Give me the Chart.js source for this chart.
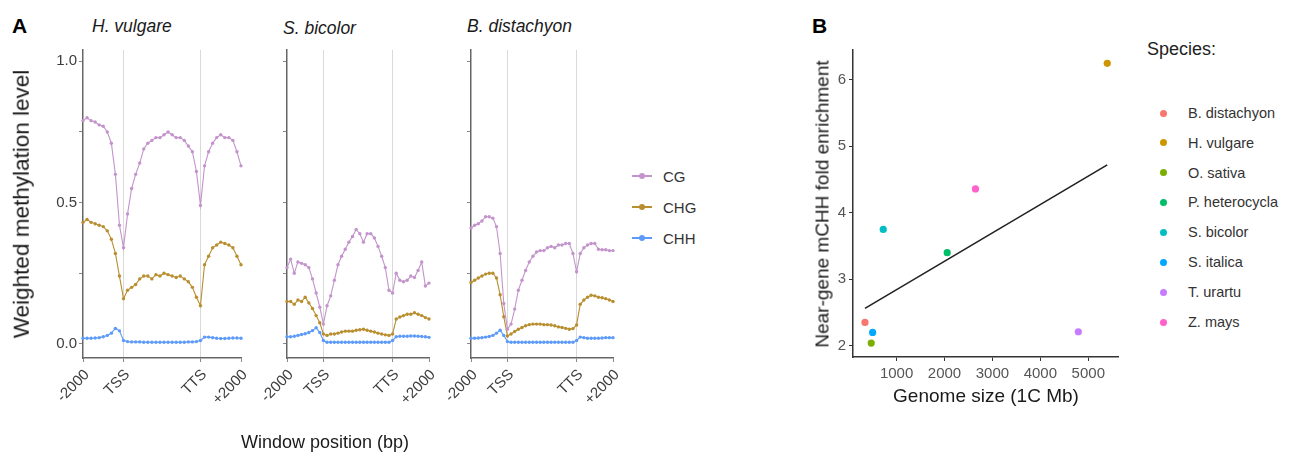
<!DOCTYPE html>
<html>
<head>
<meta charset="utf-8">
<script src="https://cdn.jsdelivr.net/npm/chart.js@4.4.1/dist/chart.umd.min.js"></script>
<style>
	body { margin: 0; width: 1295px; height: 459px; position: relative; overflow: hidden; background: #fff; font-family: "Liberation Sans", Arial, sans-serif; color: #1a1a1a; }
	canvas { position: absolute; }
	.txt { position: absolute; white-space: nowrap; line-height: 1; }
	.key { position: absolute; width: 20px; height: 2px; }
	.key i { position: absolute; left: 7px; top: -2px; width: 6px; height: 6px; border-radius: 50%; background: inherit; }
	.dot { position: absolute; width: 7px; height: 7px; border-radius: 50%; }
</style>
</head>
<body>
<canvas id="profile-hv" width="220" height="370" style="left:30px;top:40px;width:220px;height:370px"></canvas>
<canvas id="profile-sb" width="200" height="370" style="left:240px;top:40px;width:200px;height:370px"></canvas>
<canvas id="profile-bd" width="200" height="370" style="left:424px;top:40px;width:200px;height:370px"></canvas>
<canvas id="genome-chart" width="330" height="350" style="left:800px;top:40px;width:330px;height:350px"></canvas>
<script>
// panel A: methylation profiles, 11 upstream bins (to TSS), 19 gene body bins (to TTS), 10 downstream
const xTickLabels = ["-2000", "TSS", "TTS", "+2000"];
const xTickBins = [0, 10, 29, 39];
const boundaryBins = [10, 29];
const yTickValues = [0, 0.25, 0.5, 0.75, 1];
const yTickLabels = ["0.0", "", "0.5", "", "1.0"];
const contexts = ["CG", "CHG", "CHH"];
const contextColors = ["#c394cb", "#b88e2e", "#5e9bf8"];

const hvCG = [0.79, 0.80, 0.79, 0.785, 0.775, 0.77, 0.75, 0.71, 0.60, 0.42, 0.34,
	0.46, 0.55, 0.60, 0.64, 0.69, 0.71, 0.72, 0.73, 0.73, 0.74, 0.75, 0.74, 0.73, 0.73, 0.72, 0.70, 0.68, 0.61, 0.49,
	0.63, 0.68, 0.71, 0.73, 0.74, 0.73, 0.73, 0.72, 0.68, 0.63];
const hvCHG = [0.43, 0.44, 0.43, 0.425, 0.42, 0.415, 0.40, 0.37, 0.32, 0.24, 0.16,
	0.19, 0.20, 0.21, 0.23, 0.24, 0.24, 0.23, 0.245, 0.24, 0.25, 0.245, 0.24, 0.235, 0.24, 0.23, 0.22, 0.20, 0.165, 0.135,
	0.28, 0.31, 0.34, 0.35, 0.36, 0.355, 0.35, 0.34, 0.31, 0.28];
const hvCHH = [0.02, 0.02, 0.02, 0.021, 0.022, 0.025, 0.03, 0.038, 0.055, 0.046, 0.012,
	0.008, 0.007, 0.007, 0.007, 0.006, 0.006, 0.006, 0.006, 0.006, 0.006, 0.006, 0.006, 0.006, 0.006, 0.006, 0.007, 0.007, 0.008, 0.012,
	0.024, 0.024, 0.022, 0.02, 0.019, 0.019, 0.02, 0.021, 0.021, 0.02];

const sbCG = [0.27, 0.30, 0.25, 0.29, 0.285, 0.28, 0.27, 0.23, 0.18, 0.13, 0.07,
	0.135, 0.17, 0.225, 0.28, 0.31, 0.335, 0.36, 0.38, 0.405, 0.39, 0.36, 0.39, 0.39, 0.375, 0.345, 0.31, 0.27, 0.19, 0.18,
	0.25, 0.225, 0.22, 0.225, 0.24, 0.235, 0.26, 0.29, 0.205, 0.215];
const sbCHG = [0.15, 0.15, 0.14, 0.155, 0.15, 0.165, 0.145, 0.125, 0.10, 0.075, 0.035,
	0.03, 0.035, 0.035, 0.038, 0.042, 0.045, 0.045, 0.045, 0.048, 0.05, 0.052, 0.048, 0.045, 0.042, 0.038, 0.035, 0.032, 0.03, 0.035,
	0.088, 0.095, 0.10, 0.105, 0.105, 0.11, 0.105, 0.10, 0.093, 0.088];
const sbCHH = [0.025, 0.025, 0.027, 0.03, 0.033, 0.036, 0.04, 0.047, 0.057, 0.04, 0.012,
	0.006, 0.006, 0.006, 0.006, 0.006, 0.006, 0.006, 0.006, 0.006, 0.006, 0.006, 0.006, 0.006, 0.006, 0.006, 0.006, 0.006, 0.006, 0.012,
	0.025, 0.027, 0.027, 0.027, 0.028, 0.028, 0.027, 0.026, 0.025, 0.023];

const bdCG = [0.41, 0.42, 0.425, 0.435, 0.45, 0.45, 0.445, 0.415, 0.32, 0.143, 0.052,
	0.07, 0.123, 0.19, 0.225, 0.26, 0.29, 0.31, 0.325, 0.33, 0.33, 0.34, 0.345, 0.34, 0.35, 0.35, 0.355, 0.355, 0.32, 0.255,
	0.32, 0.34, 0.35, 0.355, 0.355, 0.335, 0.333, 0.333, 0.33, 0.33];
const bdCHG = [0.217, 0.225, 0.233, 0.24, 0.247, 0.25, 0.25, 0.233, 0.174, 0.096, 0.028,
	0.035, 0.044, 0.052, 0.058, 0.064, 0.068, 0.07, 0.07, 0.07, 0.068, 0.068, 0.067, 0.064, 0.06, 0.058, 0.055, 0.052, 0.054, 0.067,
	0.14, 0.155, 0.165, 0.172, 0.17, 0.165, 0.163, 0.16, 0.155, 0.15];
const bdCHH = [0.02, 0.02, 0.021, 0.022, 0.024, 0.026, 0.03, 0.038, 0.048, 0.03, 0.008,
	0.006, 0.006, 0.006, 0.006, 0.006, 0.006, 0.006, 0.006, 0.006, 0.006, 0.006, 0.006, 0.006, 0.006, 0.006, 0.006, 0.006, 0.006, 0.012,
	0.024, 0.022, 0.02, 0.02, 0.02, 0.02, 0.021, 0.022, 0.022, 0.022];

// panel B: genome size vs near-gene mCHH enrichment
const species = ["B. distachyon", "H. vulgare", "O. sativa", "P. heterocycla", "S. bicolor", "S. italica", "T. urartu", "Z. mays"];
const speciesColors = ["#F8766D", "#CD9600", "#7CAE00", "#00BE67", "#00BFC4", "#00A9FF", "#C77CFF", "#FF61CC"];
const genomeSize = [340, 5396, 470, 2056, 721, 500, 4792, 2646];
const enrichment = [2.35, 6.25, 2.04, 3.40, 3.75, 2.20, 2.21, 4.36];
const genomeTicks = [1000, 2000, 3000, 4000, 5000];
const enrichmentTicks = [2, 3, 4, 5, 6];

Chart.defaults.font.family = "'Liberation Sans', Arial, sans-serif";
Chart.defaults.animation = false;

const binLabels = hvCG.map((_, i) => {
	const k = xTickBins.indexOf(i);
	return k >= 0 ? xTickLabels[k] : "";
});

function addText(text, left, top, size, extra) {
	const el = document.createElement("div");
	el.className = "txt";
	el.textContent = text;
	el.style.left = left + "px";
	el.style.top = top + "px";
	el.style.fontSize = size + "px";
	Object.assign(el.style, extra || {});
	document.body.appendChild(el);
	return el;
}

// baseline placement for left aligned text
function addBaseText(text, left, baseline, size, extra) {
	return addText(text, left, baseline - 0.8465 * size, size, extra);
}

function addCenterText(text, cx, cy, size, rotate, extra) {
	const el = addText(text, cx, cy, size, extra);
	el.style.transform = "translate(-50%, -50%)" + (rotate ? " rotate(-90deg)" : "");
	return el;
}

function makeProfileChart(canvasId, series, yWidth, padRight, showYLabels) {
	const canvas = document.getElementById(canvasId);
	return new Chart(canvas, {
		type: "line",
		data: {
			labels: binLabels,
			datasets: series.map((values, i) => ({
				label: contexts[i],
				data: values,
				borderColor: contextColors[i],
				backgroundColor: contextColors[i],
				pointBackgroundColor: contextColors[i],
				borderWidth: 1.1,
				pointRadius: 1.7,
				pointBorderWidth: 0,
				tension: 0,
				clip: false,
			})),
		},
		options: {
			responsive: false,
			layout: { padding: { top: 10, right: padRight, left: 0, bottom: 0 } },
			plugins: { legend: { display: false }, tooltip: { enabled: false } },
			scales: {
				x: {
					type: "category",
					grid: {
						color: (ctx) => boundaryBins.includes(ctx.index) ? "#d9d9d9" : "rgba(0,0,0,0)",
						tickColor: (ctx) => xTickBins.includes(ctx.index) ? "#8a8a8a" : "rgba(0,0,0,0)",
						tickLength: 4,
						lineWidth: 1,
					},
					border: { color: "#666", width: 1.5 },
					ticks: {
						autoSkip: false,
						minRotation: 45,
						maxRotation: 45,
						padding: 4,
						labelOffset: 4,
						color: "#3d3d3d",
						font: { size: 15 },
					},
					afterFit: (scale) => {
						scale.height = 52;
						scale.paddingLeft = 0;
						scale.paddingRight = 0;
					},
				},
				y: {
					min: -0.05,
					max: 1.04,
					afterBuildTicks: (scale) => {
						scale.ticks = yTickValues.map((v) => ({ value: v }));
					},
					grid: { drawOnChartArea: false, tickLength: 4, color: "#8a8a8a" },
					border: { color: "#666", width: 1.5 },
					ticks: {
						padding: 2,
						color: "#3d3d3d",
						font: { size: 15 },
						callback: (value) => showYLabels ? yTickLabels[yTickValues.indexOf(value)] : "",
					},
					afterFit: (scale) => {
						scale.width = yWidth;
						scale.paddingTop = 0;
						scale.paddingBottom = 0;
					},
				},
			},
		},
	});
}

function leastSquares(xs, ys) {
	const n = xs.length;
	const mx = xs.reduce((a, b) => a + b, 0) / n;
	const my = ys.reduce((a, b) => a + b, 0) / n;
	let sxy = 0;
	let sxx = 0;
	xs.forEach((x, i) => {
		sxy += (x - mx) * (ys[i] - my);
		sxx += (x - mx) * (x - mx);
	});
	const slope = sxy / sxx;
	return (x) => my + slope * (x - mx);
}

function makeGenomeChart() {
	const fit = leastSquares(genomeSize, enrichment);
	const xMin = Math.min(...genomeSize);
	const xMax = Math.max(...genomeSize);
	return new Chart(document.getElementById("genome-chart"), {
		type: "scatter",
		data: {
			datasets: [
				{
					type: "line",
					data: [{ x: xMin, y: fit(xMin) }, { x: xMax, y: fit(xMax) }],
					borderColor: "#222",
					borderWidth: 1.6,
					pointRadius: 0,
				},
				{
					data: genomeSize.map((x, i) => ({ x, y: enrichment[i] })),
					backgroundColor: speciesColors,
					pointRadius: 3.6,
					pointBorderWidth: 0,
					clip: false,
				},
			],
		},
		options: {
			responsive: false,
			layout: { padding: { top: 10, right: 12, left: 0, bottom: 0 } },
			plugins: { legend: { display: false }, tooltip: { enabled: false } },
			scales: {
				x: {
					type: "linear",
					min: 90,
					max: 5620,
					afterBuildTicks: (scale) => {
						scale.ticks = genomeTicks.map((v) => ({ value: v }));
					},
					grid: { drawOnChartArea: false, tickLength: 4, color: "#333" },
					border: { color: "#333", width: 1.5 },
					ticks: { padding: 4, color: "#555", font: { size: 15 }, callback: (v) => String(v) },
					afterFit: (scale) => {
						scale.height = 33;
						scale.paddingLeft = 0;
						scale.paddingRight = 0;
					},
				},
				y: {
					min: 1.83,
					max: 6.45,
					afterBuildTicks: (scale) => {
						scale.ticks = enrichmentTicks.map((v) => ({ value: v }));
					},
					grid: { drawOnChartArea: false, tickLength: 4, color: "#333" },
					border: { color: "#333", width: 1.5 },
					ticks: { padding: 3, color: "#555", font: { size: 15 }, callback: (v) => String(v) },
					afterFit: (scale) => {
						scale.width = 53;
						scale.paddingTop = 0;
						scale.paddingBottom = 0;
					},
				},
			},
		},
	});
}

makeProfileChart("profile-hv", [hvCG, hvCHG, hvCHH], 53, 9, true);
makeProfileChart("profile-sb", [sbCG, sbCHG, sbCHH], 47, 11, false);
makeProfileChart("profile-bd", [bdCG, bdCHG, bdCHH], 47, 11, false);
makeGenomeChart();

// panel A texts
addBaseText("A", 12, 33, 21, { fontWeight: "bold", color: "#000" });
addBaseText("H. vulgare", 92, 33, 17.5, { fontStyle: "italic" });
addBaseText("S. bicolor", 283, 35, 17.5, { fontStyle: "italic" });
addBaseText("B. distachyon", 467, 33, 17.5, { fontStyle: "italic" });
addCenterText("Weighted methylation level", 22, 204, 22.5, true);
addCenterText("Window position (bp)", 325, 442, 18);

contexts.forEach((name, i) => {
	const y = 176 + i * 31;
	const key = document.createElement("div");
	key.className = "key";
	key.style.left = "632px";
	key.style.top = (y - 1) + "px";
	key.style.background = contextColors[i];
	key.appendChild(document.createElement("i"));
	document.body.appendChild(key);
	addText(name, 663, y - 7.5, 15, { color: "#333" });
});

// panel B texts
addBaseText("B", 812, 33, 21, { fontWeight: "bold", color: "#000" });
addCenterText("Near-gene mCHH fold enrichment", 822, 204, 19, true);
addCenterText("Genome size (1C Mb)", 986, 395, 19);
addText("Species:", 1147, 40, 18, { color: "#222" });

species.forEach((name, i) => {
	const y = 113 + i * 29.9;
	const dot = document.createElement("div");
	dot.className = "dot";
	dot.style.left = "1159.5px";
	dot.style.top = (y - 3.5) + "px";
	dot.style.background = speciesColors[i];
	document.body.appendChild(dot);
	addText(name, 1188, y - 7.25, 14.5, { color: "#333" });
});
</script>
</body>
</html>
